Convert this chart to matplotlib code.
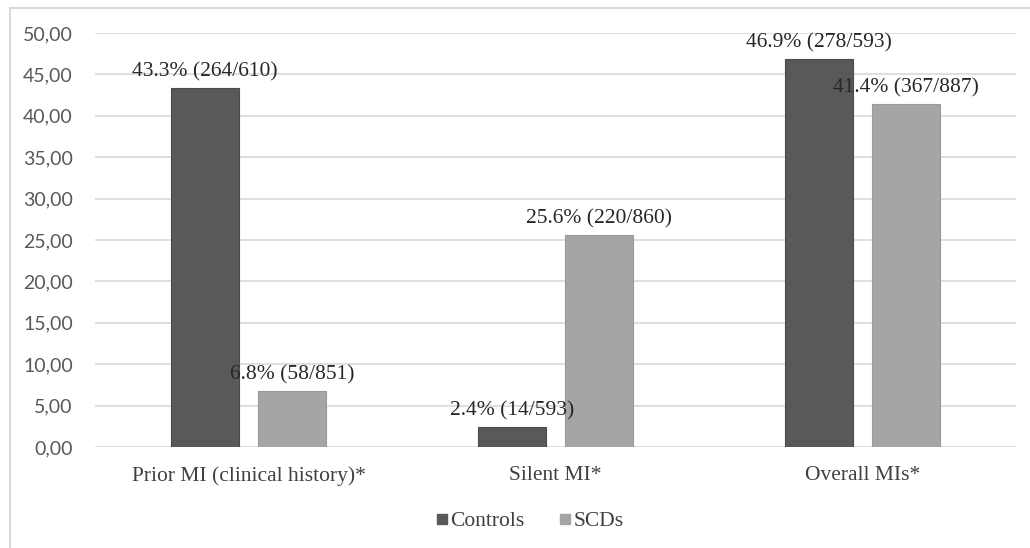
import numpy as np
import matplotlib.pyplot as plt
from matplotlib.lines import Line2D

categories = ["Prior MI (clinical history)*", "Silent MI*", "Overall MIs*"]
controls = [43.3, 2.4, 46.9]
scds = [6.8, 25.6, 41.4]
controls_labels = ["43.3% (264/610)", "2.4% (14/593)", "46.9% (278/593)"]
scds_labels = ["6.8% (58/851)", "25.6% (220/860)", "41.4% (367/887)"]
yticks = [0, 5, 10, 15, 20, 25, 30, 35, 40, 45, 50]

serif = ["Liberation Serif", "DejaVu Serif"]
sans = ["Lato", "DejaVu Sans"]

fig = plt.figure(figsize=(10.3, 5.48), dpi=100)
ax = fig.add_axes([95 / 1030, 1 - 447 / 548, 921 / 1030, 414 / 548])

x = np.arange(len(categories))
w = 0.22
off = 0.142
b1 = ax.bar(x - off, controls, w, color="#595959", edgecolor="#4a4a4a", linewidth=0.8,
            zorder=3, label="Controls")
b2 = ax.bar(x + off, scds, w, color="#a5a5a5", edgecolor="#999999", linewidth=0.8,
            zorder=3, label="SCDs")

for rect, txt in zip(b1, controls_labels):
    ax.text(rect.get_x() + rect.get_width() / 2, rect.get_height() + 0.8, txt,
            ha="center", va="bottom", fontsize=15.5, family=serif, color="#262626")
for rect, txt in zip(b2, scds_labels):
    ax.text(rect.get_x() + rect.get_width() / 2, rect.get_height() + 0.8, txt,
            ha="center", va="bottom", fontsize=15.5, family=serif, color="#262626")

ax.set_xlim(-0.5, 2.5)
ax.set_ylim(0, 50)
ax.set_yticks(yticks)
ax.set_yticklabels([f"{v:.2f}".replace(".", ",") for v in yticks],
                   family=sans, fontsize=14, color="#595959")
ax.set_xticks(x)
ax.set_xticklabels(categories, family=serif, fontsize=15.5, color="#404040")
ax.tick_params(axis="both", length=0)
ax.tick_params(axis="x", pad=14)
ax.tick_params(axis="y", pad=16)
ax.grid(axis="y", color="#d9d9d9", linewidth=1.2, zorder=0)
for s in ax.spines.values():
    s.set_visible(False)

# legend below the axis
handles = [
    Line2D([], [], marker="s", linestyle="none", markersize=6.5, color="#595959"),
    Line2D([], [], marker="s", linestyle="none", markersize=6.5, color="#a5a5a5"),
]
fig.legend(handles, ["Controls", "SCDs"], loc="center", bbox_to_anchor=(530 / 1030, 1 - 521 / 548),
           ncol=2, frameon=False, prop={"family": serif, "size": 15.5},
           handlelength=0.5, handletextpad=0.15, columnspacing=1.6, labelcolor="#404040")

# light frame on the left and top edges
fig.add_artist(Line2D([10 / 1030, 10 / 1030], [0, 1 - 8 / 548], transform=fig.transFigure,
                      color="#d9d9d9", linewidth=1.5))
fig.add_artist(Line2D([10 / 1030, 1], [1 - 8 / 548, 1 - 8 / 548], transform=fig.transFigure,
                      color="#d9d9d9", linewidth=1.5))

fig.savefig("out.png", dpi=100)
